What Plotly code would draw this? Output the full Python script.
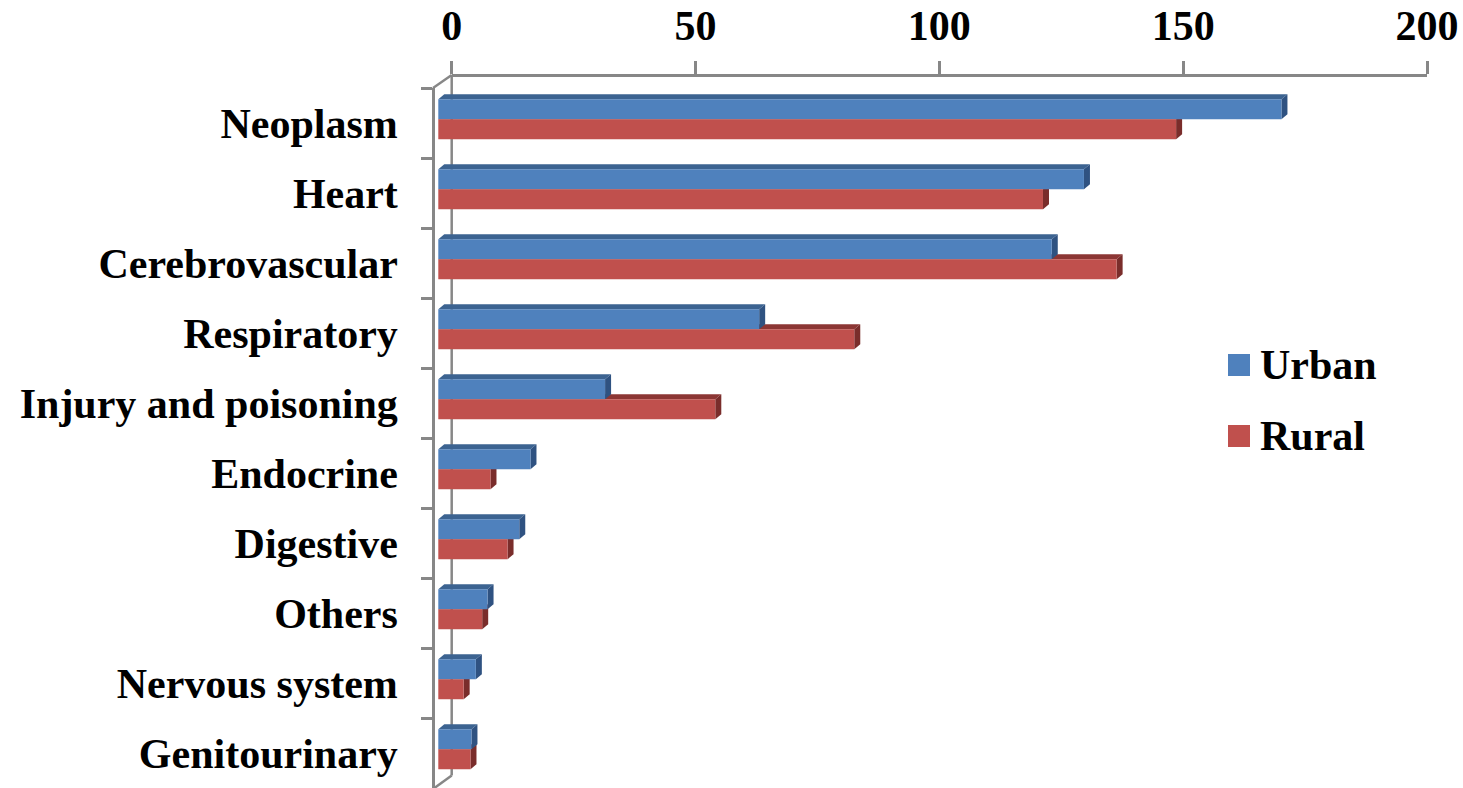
import plotly.graph_objects as go

# ---- data -------------------------------------------------------------
categories = [
    "Neoplasm", "Heart", "Cerebrovascular", "Respiratory",
    "Injury and poisoning", "Endocrine", "Digestive", "Others",
    "Nervous system", "Genitourinary",
]
urban = [172.9, 132.4, 125.8, 65.8, 34.2, 18.9, 16.6, 10.1, 7.7, 6.8]
rural = [151.3, 124.0, 139.1, 85.3, 56.8, 10.7, 14.2, 9.0, 5.2, 6.6]
value_ticks = [0, 50, 100, 150, 200]
series_names = ["Urban", "Rural"]

# ---- styling / geometry -------------------------------------------------
W, H = 1463, 788
FONT = "Times New Roman, Liberation Serif, serif"
GRAY = "#878787"

FRONT = {"Urban": "#4F81BD", "Rural": "#C0504D"}
TOP = {"Urban": "#3C6391", "Rural": "#8C3634"}
SIDE = {"Urban": "#2F5281", "Rural": "#7A2D2B"}

BACK_LEFT, BACK_RIGHT = 451.7, 1427.0      # value axis 0 .. 200 (back wall)
FRONT_LEFT = 433.0                          # front edge of the floor
BAR_ZERO = 438.3                            # bar front faces start here
PLOT_TOP, PLOT_BOTTOM = 88.0, 788.0         # category band (front plane)
BACK_TOP, BACK_BOTTOM = 75.0, 775.5
X_RIGHT = 1450.0
PX_PER_UNIT = (BACK_RIGHT - BACK_LEFT) / (value_ticks[-1] - value_ticks[0])
ROW = (PLOT_BOTTOM - PLOT_TOP) / len(categories)
BAR_LIFT = 3.7                              # bars sit slightly behind the front plane
DEPTH_X, DEPTH_Y = 6.0, 5.0                 # bar depth in px (right, up)
BAR_W = 0.285                               # thickness of one bar in category units


def px(x):
    return x / W


def py(y):
    return 1 - y / H


x_range = [(FRONT_LEFT - BAR_ZERO) / PX_PER_UNIT, (X_RIGHT - BAR_ZERO) / PX_PER_UNIT]
top_val = -0.5 + BAR_LIFT / ROW
y_range = [top_val + len(categories), top_val]
dxu = DEPTH_X / PX_PER_UNIT
dyu = DEPTH_Y / ROW

pos = list(range(len(categories)))
fig = go.Figure()

# front faces of the bars
for name, vals, off in [("Urban", urban, -BAR_W), ("Rural", rural, 0.0)]:
    fig.add_trace(go.Bar(
        name=name, y=pos, x=vals, orientation="h", base=0,
        width=BAR_W, offset=off,
        marker=dict(color=FRONT[name], line=dict(width=0)),
        showlegend=False, xaxis="x", yaxis="y",
    ))

# top and side faces (drawn beneath the front faces)
shapes = []


def face(path, color):
    shapes.append(dict(type="path", path=path, xref="x", yref="y",
                       fillcolor=color, line=dict(width=0), layer="below"))


for name, vals, y0 in [("Rural", rural, 0.0), ("Urban", urban, -BAR_W)]:
    for k, v in zip(pos, vals):
        top = k + y0
        bot = top + BAR_W
        face(f"M0,{top} L{v},{top} L{v + dxu},{top - dyu} L{dxu},{top - dyu} Z", TOP[name])
        face(f"M{v},{top} L{v + dxu},{top - dyu} L{v + dxu},{bot - dyu} L{v},{bot} Z", SIDE[name])

# walls of the chart box
wall = dict(type="line", xref="paper", yref="paper", line=dict(color=GRAY, width=2.5), layer="below")
shapes += [
    dict(wall, x0=px(BACK_LEFT), y0=py(BACK_TOP), x1=px(BACK_LEFT), y1=py(BACK_BOTTOM)),
    dict(wall, x0=px(FRONT_LEFT), y0=py(PLOT_TOP), x1=px(BACK_LEFT), y1=py(BACK_TOP)),
    dict(wall, x0=px(FRONT_LEFT), y0=py(PLOT_BOTTOM + 1), x1=px(BACK_LEFT), y1=py(BACK_BOTTOM)),
]

# legend
annotations = []
for i, name in enumerate(series_names):
    cy = 365 + i * 71
    shapes.append(dict(type="rect", xref="paper", yref="paper",
                       x0=px(1228), x1=px(1250), y0=py(cy - 11), y1=py(cy + 11),
                       fillcolor=FRONT[name], line=dict(width=0)))
    annotations.append(dict(text=f"<b>{name}</b>", xref="paper", yref="paper",
                            x=px(1258), y=py(cy), xanchor="left", yanchor="middle",
                            showarrow=False, font=dict(family=FONT, size=42, color="black")))

# helpers carrying the value and category axes
fig.add_trace(go.Scatter(x=[value_ticks[0], value_ticks[-1]], y=[None, None], xaxis="x2", yaxis="y",
                         mode="markers", showlegend=False, hoverinfo="skip"))
fig.add_trace(go.Scatter(x=[0] * len(categories), y=categories, xaxis="x", yaxis="y2",
                         mode="markers", marker=dict(opacity=0), showlegend=False, hoverinfo="skip"))

tickfont = dict(family=FONT, size=42, color="black", weight="bold")
fig.update_layout(
    width=W, height=H, autosize=False,
    margin=dict(l=0, r=0, t=0, b=0, pad=0, autoexpand=False),
    paper_bgcolor="white", plot_bgcolor="rgba(0,0,0,0)",
    barmode="overlay",
    showlegend=False,
    shapes=shapes,
    annotations=annotations,
    xaxis=dict(domain=[px(FRONT_LEFT), px(X_RIGHT)], range=x_range, visible=False,
               fixedrange=True, automargin=False),
    yaxis=dict(domain=[py(PLOT_BOTTOM), py(PLOT_TOP)], range=y_range, visible=False,
               fixedrange=True, automargin=False),
    xaxis2=dict(
        domain=[px(BACK_LEFT), px(BACK_RIGHT)], range=[value_ticks[0], value_ticks[-1]],
        anchor="free", position=py(BACK_TOP), side="top", automargin=False,
        showline=True, linecolor=GRAY, linewidth=2.5, showgrid=False, zeroline=False,
        ticks="outside", ticklen=13, tickwidth=2.5, tickcolor=GRAY,
        tickvals=value_ticks, tickfont=tickfont, ticklabelstandoff=4,
    ),
    yaxis2=dict(
        overlaying="y", type="category", categoryorder="array", categoryarray=categories,
        range=[len(categories) - 0.5, -0.5], anchor="free", position=px(FRONT_LEFT), side="left",
        automargin=False,
        showline=True, linecolor=GRAY, linewidth=2.5, showgrid=False, zeroline=False,
        ticks="outside", ticklen=11, tickwidth=2.5, tickcolor=GRAY, tickson="boundaries",
        tickfont=tickfont, ticklabelstandoff=26,
    ),
)

fig.write_html("out.html")
